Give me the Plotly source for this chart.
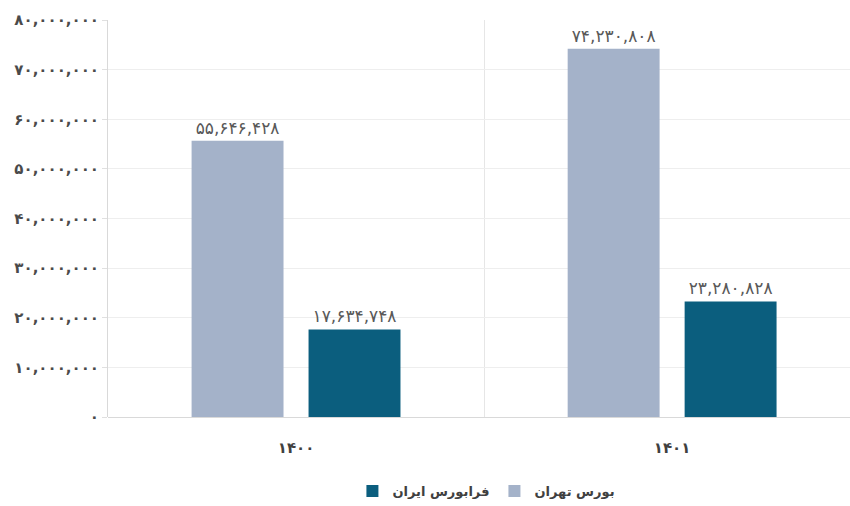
import plotly.graph_objects as go

# Data
categories = ["۱۴۰۰", "۱۴۰۱"]
series_names = ["بورس تهران", "فرابورس ایران"]
tehran_values = [55646428, 74230808]
ifb_values = [17634748, 23280828]
tehran_labels = ["۵۵,۶۴۶,۴۲۸", "۷۴,۲۳۰,۸۰۸"]
ifb_labels = ["۱۷,۶۳۴,۷۴۸", "۲۳,۲۸۰,۸۲۸"]
y_tick_vals = [0, 10000000, 20000000, 30000000, 40000000, 50000000, 60000000, 70000000, 80000000]
y_tick_text = ["۰", "۱۰,۰۰۰,۰۰۰", "۲۰,۰۰۰,۰۰۰", "۳۰,۰۰۰,۰۰۰", "۴۰,۰۰۰,۰۰۰",
               "۵۰,۰۰۰,۰۰۰", "۶۰,۰۰۰,۰۰۰", "۷۰,۰۰۰,۰۰۰", "۸۰,۰۰۰,۰۰۰"]

colors = ["#a4b2c9", "#0b5e7e"]
font_family = "DejaVu Sans"
text_color = "#595959"

fig = go.Figure()
fig.add_trace(go.Bar(
    x=categories, y=tehran_values, name=series_names[0],
    marker=dict(color=colors[0], line=dict(width=0)),
    text=tehran_labels, textposition="outside", cliponaxis=False,
    textfont=dict(size=17, color=text_color, family=font_family),
))
fig.add_trace(go.Bar(
    x=categories, y=ifb_values, name=series_names[1],
    marker=dict(color=colors[1], line=dict(width=0)),
    text=ifb_labels, textposition="outside", cliponaxis=False,
    textfont=dict(size=17, color=text_color, family=font_family),
))

fig.update_layout(
    width=850, height=506,
    margin=dict(l=108, r=0, t=20, b=88),
    paper_bgcolor="white", plot_bgcolor="white",
    barmode="group", bargap=0.378, bargroupgap=0.214,
    font=dict(family=font_family, color=text_color),
    showlegend=True,
    legend=dict(
        orientation="h", traceorder="reversed",
        x=0.51, xanchor="center", y=-0.186, yanchor="middle",
        font=dict(size=13, color="#404040", family=font_family, weight="bold"),
        itemwidth=30,
    ),
)

fig.update_xaxes(
    type="category", range=[-0.5, 1.473],
    showgrid=True, gridcolor="#e6e6e6", gridwidth=1, tickson="boundaries",
    showline=False, zeroline=False,
    ticks="", ticklabelstandoff=20,
    tickfont=dict(size=15, color="#404040", family=font_family, weight="bold"),
)
fig.update_yaxes(
    range=[0, 80000000], tickvals=y_tick_vals, ticktext=y_tick_text,
    showgrid=True, gridcolor="#eeeeee", gridwidth=1,
    showline=True, linecolor="#d9d9d9", linewidth=1,
    zeroline=True, zerolinecolor="#d9d9d9", zerolinewidth=1,
    ticks="outside", ticklen=5, tickcolor="#e0e0e0",
    tickfont=dict(size=15, color="#4a4a4a", family=font_family, weight="bold"),
)

fig.write_html("out.html")
